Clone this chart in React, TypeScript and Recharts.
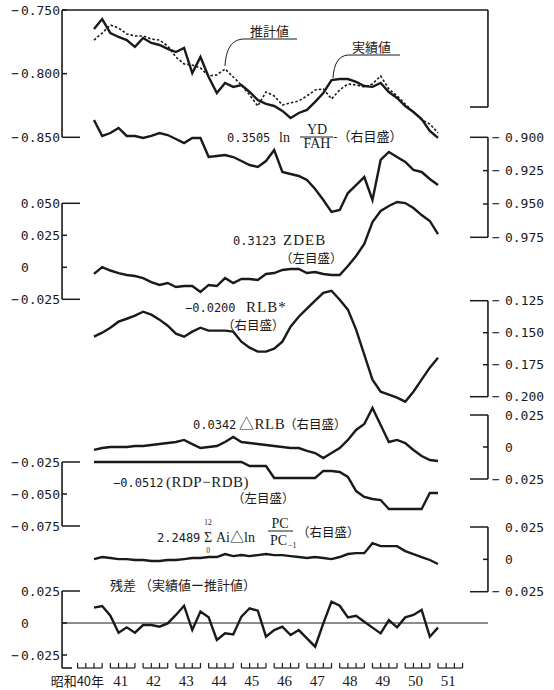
import React from 'react'
import { ComposedChart, Line, XAxis, YAxis, ReferenceLine } from 'recharts'

// 四半期: 昭和40年III期 〜 51年I期
const years = ['昭和40年', '41', '42', '43', '44', '45', '46', '47', '48', '49', '50', '51']

const actual = [
  -0.7649, -0.7571, -0.7681, -0.7712, -0.7736, -0.779, -0.772, -0.7759, -0.7775, -0.7806,
  -0.783, -0.7798, -0.7995, -0.7869, -0.8026, -0.8152, -0.8073, -0.8104, -0.8089, -0.8144,
  -0.8207, -0.8238, -0.8254, -0.8293, -0.8348, -0.8309, -0.8285, -0.8222, -0.8152, -0.805,
  -0.8042, -0.8042, -0.8065, -0.8097, -0.8104, -0.8073, -0.8144, -0.8191, -0.8254, -0.8301,
  -0.8356, -0.845, -0.8505,
]
const estimate = [
  -0.7736, -0.7681, -0.7618, -0.7641, -0.7688, -0.7704, -0.7704, -0.7728, -0.7736, -0.7783,
  -0.7869, -0.7924, -0.7932, -0.7955, -0.8018, -0.801, -0.7963, -0.8026, -0.8089, -0.8167,
  -0.8254, -0.8144, -0.8175, -0.8246, -0.823, -0.8214, -0.8175, -0.8128, -0.812, -0.8199,
  -0.8128, -0.8081, -0.8089, -0.8104, -0.8081, -0.8018, -0.812, -0.8175, -0.8238, -0.8301,
  -0.8364, -0.8395, -0.8466,
]
const lnYdFah = [
  -0.887, -0.899, -0.8968, -0.893, -0.899, -0.899, -0.9005, -0.899, -0.8968, -0.8983,
  -0.9013, -0.9043, -0.9005, -0.9005, -0.9148, -0.914, -0.9133, -0.9148, -0.9178, -0.9208,
  -0.9223, -0.9178, -0.9095, -0.926, -0.9275, -0.929, -0.932, -0.9388, -0.947, -0.956,
  -0.9545, -0.9418, -0.9358, -0.9298, -0.947, -0.917, -0.911, -0.9148, -0.9185, -0.9245,
  -0.926, -0.9313, -0.9358,
]
const zdeb = [
  -0.0052, 0.0002, -0.0025, -0.0045, -0.006, -0.0068, -0.0084, -0.0115, -0.0138, -0.0123,
  -0.0154, -0.0146, -0.0146, -0.0193, -0.0138, -0.0146, -0.0084, -0.0123, -0.0091, -0.0091,
  -0.0099, -0.0052, -0.0045, -0.0021, -0.0013, -0.0013, -0.0045, -0.0037, -0.0052, -0.006,
  -0.006, 0.001, 0.0088, 0.0182, 0.0354, 0.044, 0.0479, 0.051, 0.0502, 0.0463,
  0.0408, 0.0362, 0.026,
]
const rlbStar = [
  -0.1531, -0.15, -0.1461, -0.1414, -0.1391, -0.1367, -0.1336, -0.1359, -0.1398, -0.1445,
  -0.1508, -0.1531, -0.1492, -0.1461, -0.1484, -0.1484, -0.1484, -0.1492, -0.157, -0.1617,
  -0.1648, -0.1648, -0.1625, -0.157, -0.1453, -0.1375, -0.1312, -0.125, -0.1188, -0.1172,
  -0.1242, -0.132, -0.1476, -0.1672, -0.1867, -0.1961, -0.1984, -0.2008, -0.2039, -0.1961,
  -0.1867, -0.1773, -0.1695,
]
const dRlb = [
  -0.0023, -0.0008, 0, 0, 0, 0.0008, 0.0008, 0.0016, 0.0023, 0.0031,
  0.0039, 0.0055, 0.0023, -0.0008, 0, 0.0008, 0.0039, 0.0078, 0.0039, 0.0031,
  0.0023, 0.0016, 0.0008, 0, -0.0008, -0.0008, -0.0031, -0.0047, -0.0086, -0.0047,
  -0.0008, 0.0055, 0.0133, 0.018, 0.0305, 0.0172, 0.0039, 0.0055, 0.0031, -0.0023,
  -0.007, -0.0102, -0.0109,
]
const rdpRdb = [
  -0.025, -0.025, -0.025, -0.025, -0.025, -0.025, -0.025, -0.025, -0.025, -0.025,
  -0.025, -0.025, -0.025, -0.025, -0.025, -0.025, -0.025, -0.025, -0.025, -0.0281,
  -0.0281, -0.0281, -0.0375, -0.0375, -0.0375, -0.0375, -0.0375, -0.0375, -0.032, -0.032,
  -0.0328, -0.0367, -0.0477, -0.0523, -0.0539, -0.0547, -0.0617, -0.0617, -0.0617, -0.0617,
  -0.0617, -0.0492, -0.0492,
]
const pcTerm = [
  0.0002, 0.0018, 0.001, 0.0002, 0.0002, -0.0005, -0.0005, -0.0013, -0.0013, -0.0005,
  -0.0005, 0.0002, 0.001, 0.001, 0.0018, 0.0018, 0.0041, 0.0025, 0.0033, 0.0025,
  0.0033, 0.0041, 0.0033, 0.0033, 0.0025, 0.0018, 0.001, 0.0018, 0.001, 0.0002,
  0.0018, 0.0041, 0.0048, 0.0048, 0.0125, 0.0102, 0.0102, 0.0102, 0.0064, 0.0041,
  0.0018, -0.0005, -0.0036,
]
const residual = [
  0.012, 0.0133, 0.0057, -0.0076, -0.0034, -0.0076, -0.0016, -0.0016, -0.0029, -0.0003,
  0.0063, 0.0135, -0.0055, 0.0089, 0.0044, -0.0133, -0.0081, -0.0089, 0.005, 0.0115,
  0.0096, -0.0107, -0.0055, -0.0029, -0.0094, -0.0055, -0.012, -0.0185, -0.0003, 0.0167,
  0.0135, 0.0044, 0.0057, 0.001, -0.0036, -0.0081, 0.0023, -0.0034, 0.0044, 0.0063,
  0.0102, -0.0107, -0.0036,
]

// t = 0 is 40年III期; year 40 I期 is t = -2
const data = actual.map((v, i) => ({
  t: i,
  label: `${40 + Math.floor((i + 2) / 4)}-${((i + 2) % 4) + 1}`,
  actual: v,
  estimate: estimate[i],
  lnYdFah: lnYdFah[i],
  zdeb: zdeb[i],
  rlbStar: rlbStar[i],
  dRlb: dRlb[i],
  rdpRdb: rdpRdb[i],
  pcTerm: pcTerm[i],
  residual: residual[i],
}))

const quarterTicks = Array.from({ length: years.length * 4 }, (_, k) => k - 2)

// layout
const W = 554
const H = 690
const PLOT = { left: 62, right: 488, top: 10, bottom: 668 }
const X_MIN = -3.9
const X_MAX = 48.1
const QPX = (PLOT.right - PLOT.left) / (X_MAX - X_MIN)
const INK = '#1a1a1a'
const MONO = '"DejaVu Sans Mono", monospace'
const SERIF = '"Liberation Serif", "Noto Sans CJK JP", serif'
const CJK = '"Noto Sans CJK JP", sans-serif'
const CW = 7.8 // mono char width at 13px
const AX_W = 0.01 // near-zero axis width so all axes sit on the plot edge

function domainFor(v1: number, y1: number, v2: number, y2: number): [number, number] {
  const s = (v2 - v1) / (y2 - y1)
  return [v1 + s * (PLOT.bottom - y1), v1 + s * (PLOT.top - y1)]
}

type Side = 'left' | 'right'
const panels: { id: string; side: Side; ticks: number[]; long: number[]; dom: [number, number] }[] = [
  { id: 'top', side: 'left', ticks: [-0.85, -0.8, -0.75], long: [-0.85], dom: domainFor(-0.75, 10, -0.85, 137.3) },
  { id: 'ln', side: 'right', ticks: [-0.975, -0.95, -0.925, -0.9], long: [-0.975, -0.9], dom: domainFor(-0.9, 137.3, -0.975, 237.3) },
  { id: 'z', side: 'left', ticks: [-0.025, 0, 0.025, 0.05], long: [-0.025, 0.05], dom: domainFor(0.05, 203.3, -0.025, 299.3) },
  { id: 'rlb', side: 'right', ticks: [-0.2, -0.175, -0.15, -0.125], long: [-0.2, -0.125], dom: domainFor(-0.125, 300.7, -0.2, 396.7) },
  { id: 'dr', side: 'right', ticks: [-0.025, 0, 0.025], long: [-0.025, 0.025], dom: domainFor(0.025, 415, -0.025, 479) },
  { id: 'rdp', side: 'left', ticks: [-0.075, -0.05, -0.025], long: [-0.075, -0.025], dom: domainFor(-0.025, 462, -0.075, 526) },
  { id: 'pc', side: 'right', ticks: [-0.025, 0, 0.025], long: [-0.025, 0.025], dom: domainFor(0.025, 527, -0.025, 591.7) },
  { id: 'res', side: 'left', ticks: [-0.025, 0, 0.025], long: [0.025], dom: domainFor(0.025, 591, -0.025, 655) },
]

function fmt(v: number) {
  return v === 0 ? '0' : Math.abs(v).toFixed(3)
}

function makeYTick(side: Side, long: number[]) {
  return (p: any) => {
    const { x, y, payload } = p
    const v = payload.value
    const len = long.includes(v) ? 18 : 5
    const dir = side === 'left' ? 1 : -1
    const txt = fmt(v)
    let label
    if (side === 'left') {
      const startX = x - 2 - 5 * CW
      label = (
        <>
          {v < 0 && <text x={startX - 2} y={y} dy={4.5} textAnchor="end" fontFamily={MONO} fontSize={13} fill={INK}>−</text>}
          <text x={v === 0 ? startX : x - 2} y={y} dy={4.5} textAnchor={v === 0 ? 'start' : 'end'} fontFamily={MONO} fontSize={13} fill={INK}>{txt}</text>
        </>
      )
    } else {
      label = (
        <>
          {v < 0 && <text x={x + 4} y={y} dy={4.5} fontFamily={MONO} fontSize={13} fill={INK}>−</text>}
          <text x={x + 17} y={y} dy={4.5} fontFamily={MONO} fontSize={13} fill={INK}>{txt}</text>
        </>
      )
    }
    return (
      <g>
        <line x1={x} y1={y} x2={x + dir * len} y2={y} stroke={INK} strokeWidth={1.5} />
        {label}
      </g>
    )
  }
}

function QuarterTick(p: any) {
  const { x, y, payload } = p
  const k = payload.value + 2
  const q = k % 4
  const yi = Math.floor(k / 4)
  return (
    <g>
      <line x1={x} y1={y - 5} x2={x} y2={y} stroke={INK} strokeWidth={1.2} />
      {q < 3 && <line x1={x} y1={y} x2={x + QPX} y2={y} stroke={INK} strokeWidth={1.2} />}
      {q === 1 && (
        <text
          x={yi === 0 ? x + QPX * 1.5 + 6 : x + QPX / 2 - 2}
          y={y + 18}
          textAnchor={yi === 0 ? 'end' : 'middle'}
          fontFamily={yi === 0 ? CJK : SERIF}
          fontSize={yi === 0 ? 13 : 15}
          fill={INK}
        >
          {years[yi]}
        </text>
      )}
    </g>
  )
}

const seg = (id: string, x1: number, y1: number, x2: number, y2: number, w = 1.6) => (
  <ReferenceLine
    key={`${id}-${x1}-${y1}-${x2}-${y2}`}
    yAxisId={id}
    segment={[{ x: x1, y: y1 }, { x: x2, y: y2 }]}
    stroke={INK}
    strokeWidth={w}
    ifOverflow="visible"
  />
)

const resBottom = panels[7].dom[0]
const topBoxEnd = -0.8262

function Annotations() {
  const t = { fill: INK }
  return (
    <svg width={W} height={H} style={{ position: 'absolute', left: 0, top: 0, pointerEvents: 'none' }}>
      {/* 推計値 / 実績値 */}
      <text x={250} y={36} fontFamily={CJK} fontSize={13} {...t}>推計値</text>
      <line x1={243} y1={39} x2={297} y2={39} stroke={INK} strokeWidth={1} />
      <path d="M243,39 C232,40 226,48 225,66" fill="none" stroke={INK} strokeWidth={1} />
      <text x={352} y={52} fontFamily={CJK} fontSize={13} {...t}>実績値</text>
      <line x1={348} y1={55} x2={400} y2={55} stroke={INK} strokeWidth={1} />
      <path d="M348,55 C338,56 334,64 333,78" fill="none" stroke={INK} strokeWidth={1} />

      {/* 0.3505 ln YD/FAH */}
      <text x={227} y={142} fontFamily={MONO} fontSize={12} {...t}>0.3505</text>
      <text x={279} y={142} fontFamily={SERIF} fontSize={14} {...t}>ln</text>
      <text x={317} y={134} textAnchor="middle" fontFamily={SERIF} fontSize={14} {...t}>YD</text>
      <line x1={300} y1={137} x2={333} y2={137} stroke={INK} strokeWidth={1} />
      <text x={317} y={148} textAnchor="middle" fontFamily={SERIF} fontSize={14} {...t}>FAH</text>
      <text x={333} y={141} fontFamily={CJK} fontSize={13} {...t}>-（右目盛）</text>

      {/* ZDEB */}
      <text x={233} y={245} fontFamily={MONO} fontSize={12} {...t}>0.3123</text>
      <text x={283} y={245} fontFamily={SERIF} fontSize={15} letterSpacing={1} {...t}>ZDEB</text>
      <text x={280} y={263} fontFamily={CJK} fontSize={12.5} {...t}>（左目盛）</text>

      {/* RLB* */}
      <text x={185} y={312} fontFamily={MONO} fontSize={12} {...t}>−0.0200</text>
      <text x={246} y={312} fontFamily={SERIF} fontSize={15} letterSpacing={1} {...t}>RLB*</text>
      <text x={222} y={330} fontFamily={CJK} fontSize={12.5} {...t}>（右目盛）</text>

      {/* ΔRLB */}
      <text x={193} y={429} fontFamily={MONO} fontSize={12} {...t}>0.0342</text>
      <text x={239} y={429} fontFamily={SERIF} fontSize={15} letterSpacing={0.5} {...t}>△RLB</text>
      <text x={284} y={429} fontFamily={CJK} fontSize={12.5} {...t}>（右目盛）</text>

      {/* RDP-RDB */}
      <text x={113} y={487} fontFamily={MONO} fontSize={12} {...t}>−0.0512</text>
      <text x={166} y={487} fontFamily={SERIF} fontSize={15} letterSpacing={0.5} {...t}>(RDP−RDB)</text>
      <text x={232} y={503} fontFamily={CJK} fontSize={12.5} {...t}>（左目盛）</text>

      {/* PC term */}
      <text x={157} y={542} fontFamily={MONO} fontSize={12} {...t}>2.2489</text>
      <text x={208} y={542} textAnchor="middle" fontFamily={SERIF} fontSize={14} {...t}>Σ</text>
      <text x={208} y={525} textAnchor="middle" fontFamily={SERIF} fontSize={7.5} {...t}>12</text>
      <text x={208} y={553} textAnchor="middle" fontFamily={SERIF} fontSize={7.5} {...t}>0</text>
      <text x={216} y={542} fontFamily={SERIF} fontSize={14} {...t}>Ai△ln</text>
      <text x={280} y={528} textAnchor="middle" fontFamily={SERIF} fontSize={14} {...t}>PC</text>
      <line x1={268} y1={531} x2={293} y2={531} stroke={INK} strokeWidth={1} />
      <text x={270} y={545} fontFamily={SERIF} fontSize={14} {...t}>PC</text>
      <text x={288} y={548} fontFamily={SERIF} fontSize={8} {...t}>−1</text>
      <text x={297} y={537} fontFamily={CJK} fontSize={12.5} {...t}>（右目盛）</text>

      {/* residual */}
      <text x={110} y={590} fontFamily={CJK} fontSize={13} {...t}>残差 （実績値ー推計値）</text>
    </svg>
  )
}

export default function App() {
  return (
    <div style={{ position: 'absolute', left: 0, top: 0, width: W, height: H, background: '#fff' }}>
      <ComposedChart
        width={W}
        height={H}
        data={data}
        margin={{ top: PLOT.top, left: PLOT.left, right: W - PLOT.right, bottom: H - PLOT.bottom - AX_W }}
      >
        <XAxis
          type="number"
          dataKey="t"
          domain={[X_MIN, X_MAX]}
          allowDataOverflow
          ticks={quarterTicks}
          interval={0}
          height={AX_W}
          tickSize={0}
          tickMargin={0}
          axisLine={false}
          tickLine={false}
          tick={QuarterTick}
        />
        {panels.map((a) => (
          <YAxis
            key={a.id}
            yAxisId={a.id}
            orientation={a.side}
            type="number"
            width={AX_W}
            domain={a.dom}
            allowDataOverflow
            ticks={a.ticks}
            interval={0}
            tickSize={0}
            tickMargin={0}
            axisLine={false}
            tickLine={false}
            tick={makeYTick(a.side, a.long)}
          />
        ))}

        {/* axis frames */}
        {seg('top', X_MIN, -0.75, X_MAX, -0.75)}
        {seg('top', X_MIN, -0.75, X_MIN, -0.85)}
        {seg('top', X_MAX, -0.75, X_MAX, topBoxEnd)}
        {seg('top', X_MAX - 18 / QPX, topBoxEnd, X_MAX, topBoxEnd)}
        {seg('ln', X_MAX, -0.9, X_MAX, -0.975)}
        {seg('z', X_MIN, 0.05, X_MIN, -0.025)}
        {seg('rlb', X_MAX, -0.125, X_MAX, -0.2)}
        {seg('dr', X_MAX, 0.025, X_MAX, -0.025)}
        {seg('rdp', X_MIN, -0.025, X_MIN, -0.075)}
        {seg('pc', X_MAX, 0.025, X_MAX, -0.025)}
        {seg('res', X_MIN, 0.025, X_MIN, resBottom)}
        {seg('res', X_MIN, resBottom, X_MIN + 10 / QPX, resBottom)}
        {seg('res', X_MIN, 0, X_MAX, 0, 1)}

        <Line yAxisId="top" dataKey="estimate" stroke={INK} strokeWidth={1.6} strokeDasharray="2.5 2" dot={false} isAnimationActive={false} />
        <Line yAxisId="top" dataKey="actual" stroke={INK} strokeWidth={2.4} dot={false} isAnimationActive={false} />
        <Line yAxisId="ln" dataKey="lnYdFah" stroke={INK} strokeWidth={2.4} dot={false} isAnimationActive={false} />
        <Line yAxisId="z" dataKey="zdeb" stroke={INK} strokeWidth={2.4} dot={false} isAnimationActive={false} />
        <Line yAxisId="rlb" dataKey="rlbStar" stroke={INK} strokeWidth={2.4} dot={false} isAnimationActive={false} />
        <Line yAxisId="dr" dataKey="dRlb" stroke={INK} strokeWidth={2.4} dot={false} isAnimationActive={false} />
        <Line yAxisId="rdp" dataKey="rdpRdb" stroke={INK} strokeWidth={2.4} dot={false} isAnimationActive={false} />
        <Line yAxisId="pc" dataKey="pcTerm" stroke={INK} strokeWidth={2.4} dot={false} isAnimationActive={false} />
        <Line yAxisId="res" dataKey="residual" stroke={INK} strokeWidth={2.4} dot={false} isAnimationActive={false} />
      </ComposedChart>
      <Annotations />
    </div>
  )
}
